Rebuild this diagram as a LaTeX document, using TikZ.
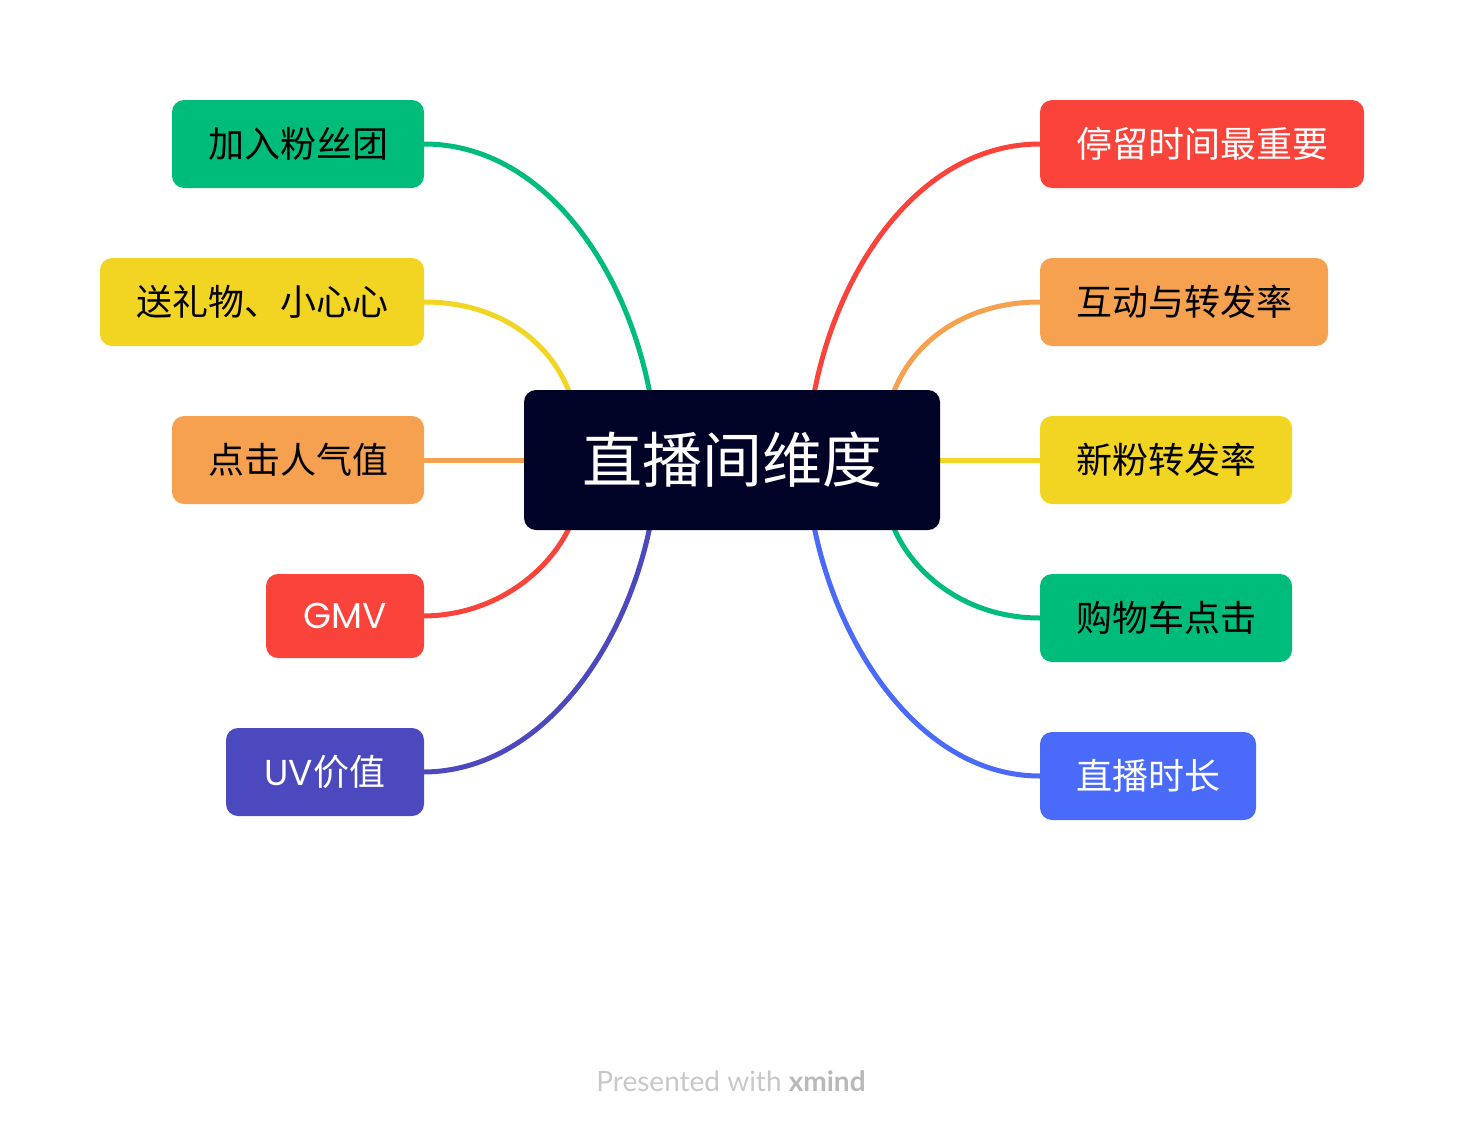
\documentclass[tikz,border=0pt]{standalone}
\usepackage{fontspec}
\usetikzlibrary{backgrounds}
\setmainfont{Noto Sans CJK SC}
\newfontfamily\footfont{Lato}
\newfontfamily\latinfont{Poppins}
\definecolor{cgreen}{RGB}{0,188,122}
\definecolor{cyellow}{RGB}{242,212,34}
\definecolor{corange}{RGB}{245,161,80}
\definecolor{cred}{RGB}{250,67,58}
\definecolor{cpurple}{RGB}{76,73,190}
\definecolor{cblue}{RGB}{74,107,250}
\definecolor{cdark}{RGB}{0,2,38}
\definecolor{cfoot}{RGB}{200,200,200}
\definecolor{cfootb}{RGB}{185,185,185}
\begin{document}
\begin{tikzpicture}[x=1pt,y=-1pt,
  topic/.style={rounded corners=12pt,inner sep=0pt,minimum height=88pt,
    font=\fontsize{36}{40}\selectfont},
  conn/.style={line width=5pt}]
\useasboundingbox (0,0) rectangle (1464,1132);
% central
\node[rounded corners=12pt,fill=cdark,text=white,minimum width=416pt,minimum height=140pt,
  font=\fontsize{60}{66}\selectfont,inner sep=0pt] (c) at (732,460) {\raisebox{-2pt}{直播间维度}};
\coordinate (cL1) at (650,394);
\coordinate (cL2) at (570,394);
\coordinate (cL4) at (570,526);
\coordinate (cL5) at (650,526);
\coordinate (cR1) at (814,394);
\coordinate (cR2) at (893,394);
\coordinate (cR4) at (893,526);
\coordinate (cR5) at (814,526);
% left topics
\node[topic,fill=cgreen,minimum width=252pt] (l1) at (298,144) {加入粉丝团};
\node[topic,fill=cyellow,minimum width=324pt] (l2) at (262,302) {送礼物、小心心};
\node[topic,fill=corange,minimum width=252pt] (l3) at (298,460) {点击人气值};
\node[topic,fill=cred,text=white,minimum width=158pt,minimum height=84pt] (l4) at (345,616) {\latinfont GMV};
\node[topic,fill=cpurple,text=white,minimum width=198pt] (l5) at (325,772) {{\latinfont UV}价值};
% right topics
\node[topic,fill=cred,text=white,minimum width=324pt] (r1) at (1202,144) {停留时间最重要};
\node[topic,fill=corange,minimum width=288pt] (r2) at (1184,302) {互动与转发率};
\node[topic,fill=cyellow,minimum width=252pt] (r3) at (1166,460) {新粉转发率};
\node[topic,fill=cgreen,minimum width=252pt] (r4) at (1166,618) {购物车点击};
\node[topic,fill=cblue,text=white,minimum width=216pt] (r5) at (1148,776) {直播时长};
% connectors
\begin{scope}[on background layer]
\draw[conn,cgreen] (l1.east) .. controls (540,144) and (625,262) .. (cL1);
\draw[conn,cyellow] (l2.east) .. controls (497,302) and (550,340) .. (cL2);
\draw[conn,corange] (l3.east) -- (l3.east -| c.west);
\draw[conn,cred] (l4.east) .. controls (497,615) and (550,570) .. (cL4);
\draw[conn,cpurple] (l5.east) .. controls (540,771) and (625,650) .. (cL5);
\draw[conn,cred] (r1.west) .. controls (924,144) and (839,262) .. (cR1);
\draw[conn,corange] (r2.west) .. controls (967,302) and (913,340) .. (cR2);
\draw[conn,cyellow] (r3.west) -- (r3.west -| c.east);
\draw[conn,cgreen] (r4.west) .. controls (967,618) and (913,575) .. (cR4);
\draw[conn,cblue] (r5.west) .. controls (924,776) and (839,652) .. (cR5);
\end{scope}
% footer
\node[font=\footfont\fontsize{28}{30}\selectfont,text=cfoot] (f) at (731,1081) {Presented with \textcolor{cfootb}{\textbf{xmind}}};
\end{tikzpicture}
\end{document}
